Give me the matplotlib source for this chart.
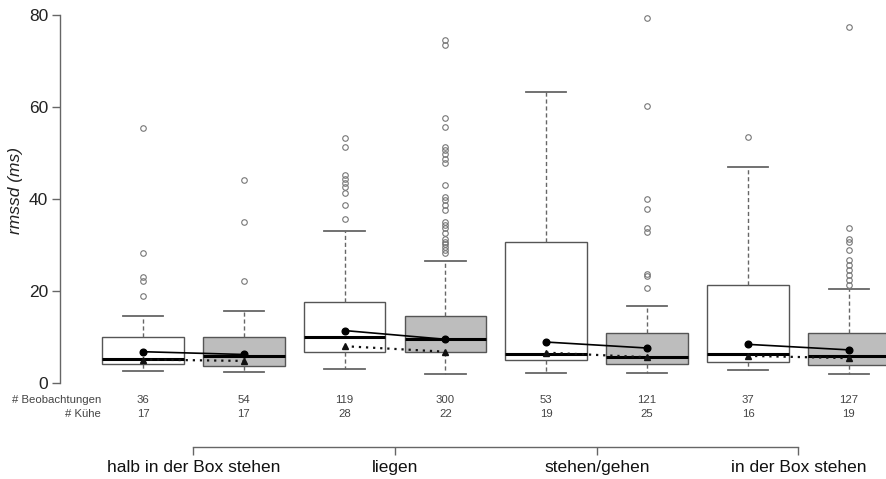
import matplotlib
matplotlib.use("Agg")
import matplotlib.pyplot as plt

plt.rcParams['font.family'] = ['Liberation Sans', 'DejaVu Sans']

# ---- data ----
categories = ["halb in der Box stehen", "liegen", "stehen/gehen", "in der Box stehen"]
n_obs = [36, 54, 119, 300, 53, 121, 37, 127]
n_cows = [17, 17, 28, 22, 19, 25, 16, 19]
q1 = [4.1, 3.7, 6.7, 6.7, 5.1, 4.1, 4.6, 3.9]
med = [5.2, 5.9, 9.9, 9.5, 6.4, 5.7, 6.2, 5.9]
q3 = [10.1, 9.9, 17.5, 14.6, 30.7, 10.8, 21.4, 10.8]
whislo = [2.5, 2.4, 3.0, 1.9, 2.1, 2.1, 2.8, 1.9]
whishi = [14.6, 15.7, 33.1, 26.5, 63.3, 16.8, 47.0, 20.4]
fliers = [
    [55.4, 28.2, 23.0, 22.1, 19.0],
    [44.1, 35.1, 22.1],
    [53.2, 51.2, 45.2, 44.4, 43.5, 42.6, 41.2, 38.7, 35.6],
    [74.5, 73.4, 57.6, 55.7, 51.4, 50.7, 49.8, 48.6, 47.8, 43.0, 40.5, 39.8,
     38.7, 37.5, 35.1, 34.3, 33.6, 32.5, 31.4, 30.7, 30.2, 29.6, 28.9, 28.3],
    [],
    [79.3, 60.2, 40.0, 37.8, 33.6, 32.8, 23.8, 23.2, 20.6],
    [53.4],
    [77.3, 33.6, 31.2, 30.7, 28.9, 26.7, 25.7, 24.6, 23.5, 22.4, 21.3],
]
means = [6.8, 6.2, 11.4, 9.5, 8.9, 7.6, 8.4, 7.2]
triangles = [5.1, 4.8, 8.0, 6.8, 6.6, 5.6, 5.9, 5.4]
yticks = [0, 20, 40, 60, 80]
fills = ["white", "#bdbdbd"] * 4

# ---- figure ----
W, H = 886, 479
fig = plt.figure(figsize=(W / 100, H / 100), dpi=100)
fig.patch.set_facecolor("white")

px_per_unit = 4.6
y0_px = 383.0  # pixel (from top) of value 0
ylo, yhi = -1.5, 82.0
bottom_px = y0_px - ylo * px_per_unit
top_px = y0_px - yhi * px_per_unit
x_left_px = 60.0
ax = fig.add_axes([x_left_px / W, 1 - bottom_px / H, 1 - x_left_px / W,
                   (bottom_px - top_px) / H])
ax.set_facecolor("none")

pos = list(range(1, 9))
spacing = 100.83
ax.set_xlim(1 - (143 - x_left_px) / spacing, 1 + (W - 143) / spacing)
ax.set_ylim(ylo, yhi)

stats = []
for i in range(8):
    stats.append(dict(q1=q1[i], med=med[i], q3=q3[i], whislo=whislo[i],
                      whishi=whishi[i], fliers=fliers[i]))

edge = "#555555"
bp = ax.bxp(stats, positions=pos, widths=0.81, patch_artist=True,
            showfliers=True,
            boxprops=dict(edgecolor=edge, linewidth=1.0),
            medianprops=dict(color="black", linewidth=2.2),
            whiskerprops=dict(color="#666666", linewidth=1.0, linestyle=(0, (3, 2))),
            capprops=dict(color="#666666", linewidth=1.3),
            capwidths=0.4,
            flierprops=dict(marker="o", markersize=4.0, markerfacecolor="none",
                            markeredgecolor="#777777", markeredgewidth=0.8,
                            linestyle="none"))
for patch, fc in zip(bp["boxes"], fills):
    patch.set_facecolor(fc)
for art in bp["fliers"] + bp["boxes"] + bp["whiskers"] + bp["caps"] + bp["medians"]:
    art.set_clip_on(False)

# mean / triangle lines per pair
for k in range(4):
    xs = [pos[2 * k], pos[2 * k + 1]]
    ax.plot(xs, [means[2 * k], means[2 * k + 1]], color="black", lw=1.2,
            marker="o", markersize=4.8, zorder=5)
    ax.plot(xs, [triangles[2 * k], triangles[2 * k + 1]], color="#111111", lw=1.6,
            linestyle=(0, (1, 2.2)), marker="^", markersize=4.8, zorder=5)

# axes styling
for s in ["top", "right", "bottom"]:
    ax.spines[s].set_visible(False)
ax.spines["left"].set_bounds(0, 80)
ax.spines["left"].set_color("#666666")
ax.spines["left"].set_linewidth(1.0)
ax.set_yticks(yticks)
ax.set_yticklabels([str(v) for v in yticks])
ax.tick_params(axis="y", length=5.5, width=1.0, color="#666666", pad=3,
               labelsize=12.5, labelcolor="#222222")
ax.tick_params(axis="x", bottom=False, labelbottom=False)
ax.set_ylabel("rmssd (ms)", fontstyle="italic", fontsize=12.5, color="#222222")
ax.yaxis.set_label_coords((15 - x_left_px) / (W - x_left_px),
                          (bottom_px - 190) / (bottom_px - top_px))
ax.yaxis.label.set_va("center")

# count rows
cnt_color = "#444444"
y_obs = (y0_px - 400) / px_per_unit
y_cow = (y0_px - 414) / px_per_unit
x_lab = 1 - (143 - 101) / spacing
ax.text(x_lab, y_obs, "# Beobachtungen", ha="right", va="center", fontsize=8.2,
        color=cnt_color, clip_on=False)
ax.text(x_lab, y_cow, "# Kühe", ha="right", va="center", fontsize=8.2,
        color=cnt_color, clip_on=False)
for p, a, b in zip(pos, n_obs, n_cows):
    ax.text(p, y_obs, str(a), ha="center", va="center", fontsize=8.2,
            color=cnt_color, clip_on=False)
    ax.text(p, y_cow, str(b), ha="center", va="center", fontsize=8.2,
            color=cnt_color, clip_on=False)

# category bracket axis
loc = -(447 - bottom_px) / (bottom_px - top_px)
sec = ax.secondary_xaxis(loc)
cat_pos = [1.5, 3.5, 5.5, 7.5]
sec.set_xticks(cat_pos)
sec.set_xticklabels(categories)
sec.spines["bottom"].set_bounds(cat_pos[0], cat_pos[-1])
sec.spines["bottom"].set_color("#666666")
sec.spines["bottom"].set_linewidth(1.0)
sec.tick_params(axis="x", length=5.5, width=1.0, color="#666666", pad=4,
                labelsize=12.5, labelcolor="#111111")

fig.savefig("out.png", dpi=100, facecolor="white")
